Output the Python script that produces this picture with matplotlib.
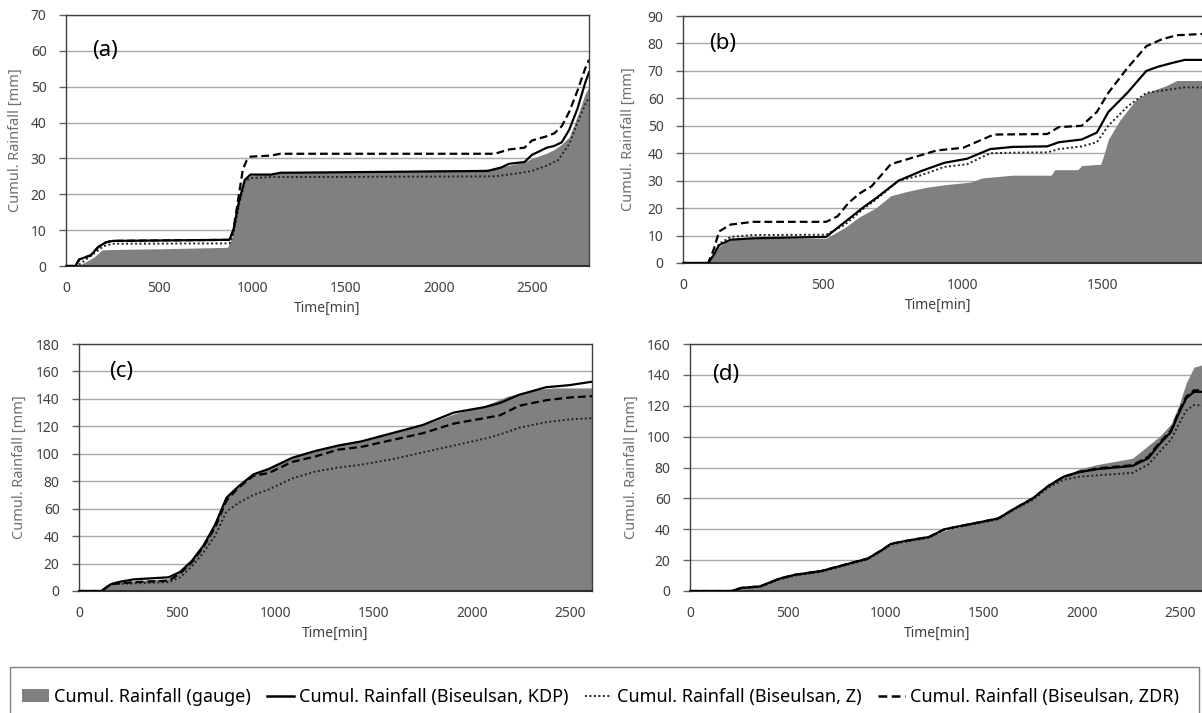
import matplotlib
matplotlib.use("Agg")
import matplotlib.pyplot as plt
from matplotlib.patches import Rectangle, Patch
from matplotlib.lines import Line2D

plt.rcParams['font.family'] = ['Noto Sans', 'DejaVu Sans']

# ---------------- data ----------------
# Panel (a)
a_t_gauge = [0, 60, 100, 150, 194, 250, 500, 867, 890, 920, 945, 960, 990, 1100, 1200, 1500, 2000, 2254, 2350, 2460, 2500, 2580, 2620, 2660, 2700, 2745, 2785, 2806]
a_gauge = [0, 0, 1, 2.5, 4.5, 4.6, 4.8, 5.2, 8, 16, 22, 24, 25.3, 25.7, 26, 26.3, 26.8, 27, 27.8, 29, 30, 31.5, 32.5, 34, 36, 42, 48, 50]
a_t_kdp = [0, 50, 71, 133, 173, 214, 250, 877, 898, 928, 959, 990, 1100, 1150, 2264, 2336, 2377, 2460, 2500, 2580, 2620, 2660, 2700, 2745, 2785, 2806]
a_kdp = [0, 0, 1.8, 3, 5.3, 6.6, 7, 7.3, 10, 18, 24, 25.5, 25.5, 26, 26.5, 27.5, 28.5, 29, 31, 33, 33.5, 34.5, 38, 44, 51, 54]
a_t_z = [0, 60, 100, 150, 200, 250, 877, 898, 928, 959, 990, 1100, 2300, 2418, 2500, 2580, 2640, 2700, 2745, 2785, 2806]
a_z = [0, 0, 1.5, 3.5, 5.5, 6.2, 6.3, 9, 17, 23.5, 24.5, 24.8, 25, 25.8, 26.5, 28, 29.5, 34, 40, 45, 47]
a_t_zdr = [0, 50, 71, 133, 173, 214, 250, 877, 898, 928, 949, 970, 990, 1100, 1150, 2300, 2377, 2460, 2500, 2580, 2620, 2660, 2700, 2745, 2785, 2806]
a_zdr = [0, 0, 1.8, 3, 5.3, 6.6, 7, 7.3, 10, 20, 27, 29.5, 30.5, 30.8, 31.3, 31.3, 32.5, 33, 35, 36.2, 37, 39, 43, 49, 55, 57.5]

# Panel (b)
b_t_gauge = [0, 88, 110, 129, 170, 250, 511, 579, 633, 688, 742, 797, 865, 933, 1029, 1069, 1178, 1315, 1328, 1410, 1424, 1492, 1505, 1519, 1560, 1614, 1655, 1723, 1764, 1868]
b_gauge = [0, 0, 3, 6, 8.5, 9, 9, 13, 17, 20, 24.5, 26, 27.5, 28.5, 29.5, 31, 32, 32, 34, 34, 35.5, 36, 40, 45, 52, 59, 62, 64.5, 66.5, 66.5]
b_t_kdp = [0, 90, 110, 129, 170, 250, 511, 579, 647, 688, 770, 851, 933, 1015, 1097, 1178, 1301, 1342, 1424, 1478, 1519, 1587, 1655, 1696, 1751, 1792, 1868]
b_kdp = [0, 0, 3, 6.5, 8.5, 9, 9.5, 15, 20.5, 23.5, 30, 33.5, 36.5, 38, 41.5, 42.3, 42.5, 44, 45, 47.5, 55, 62, 70, 71.5, 73, 74, 74]
b_t_z = [0, 90, 110, 129, 170, 250, 511, 579, 647, 688, 770, 851, 933, 1015, 1097, 1178, 1301, 1342, 1424, 1478, 1519, 1587, 1655, 1723, 1792, 1868]
b_z = [0, 0, 3, 7, 9.5, 10.2, 10.3, 14, 20, 23, 30, 32, 35, 36, 40, 40.2, 40.3, 41.5, 42.5, 44, 50, 57, 62, 63, 64, 64]
b_t_zdr = [0, 90, 110, 129, 170, 250, 511, 552, 592, 633, 674, 742, 824, 906, 1001, 1069, 1110, 1301, 1342, 1424, 1478, 1519, 1587, 1655, 1710, 1764, 1868]
b_zdr = [0, 0, 5, 11.5, 14, 15, 15, 17, 22, 25.5, 28, 36, 38.5, 41, 42, 45, 46.8, 47, 49.5, 50, 55, 62, 71, 79, 81.5, 83, 83.5]

# Panel (c)
c_t_gauge = [0, 114, 163, 200, 280, 457, 516, 575, 633, 692, 751, 810, 888, 967, 1084, 1202, 1320, 1437, 1594, 1751, 1908, 2065, 2183, 2339, 2418, 2612]
c_gauge = [0, 0, 5, 6, 7.5, 9, 14, 22, 33, 48, 68, 77, 86, 90, 98, 103, 107, 110, 116, 121, 129, 135, 142, 147, 148, 148]
c_t_kdp = [0, 114, 163, 200, 280, 457, 516, 575, 633, 692, 751, 810, 888, 967, 1084, 1202, 1320, 1437, 1594, 1751, 1908, 2065, 2143, 2241, 2378, 2496, 2612]
c_kdp = [0, 0, 5, 6.5, 8.5, 10, 14, 22, 33, 48, 68, 76, 85, 89, 97, 102, 106, 109, 115, 121, 130, 134, 137, 143, 148.5, 150, 152.5]
c_t_z = [0, 114, 163, 280, 457, 516, 575, 633, 692, 751, 810, 888, 967, 1084, 1202, 1320, 1437, 1594, 1751, 1908, 2065, 2143, 2241, 2378, 2496, 2612]
c_z = [0, 0, 5, 5.5, 6.5, 10, 18, 28, 40, 58, 64, 70, 74, 82, 87, 90, 92, 96, 101, 106, 111, 114, 119, 123, 125, 126]
c_t_zdr = [0, 114, 163, 280, 457, 516, 575, 633, 692, 751, 810, 888, 967, 1084, 1202, 1320, 1437, 1594, 1751, 1908, 2065, 2143, 2241, 2378, 2496, 2612]
c_zdr = [0, 0, 5, 6.5, 7.5, 13, 21, 32, 46, 66, 75, 84, 86, 94, 98, 103, 105, 110, 115, 122, 126, 128, 135, 139, 141, 142]

# Panel (d)
d_t_gauge = [0, 212, 261, 358, 456, 535, 672, 789, 907, 985, 1025, 1103, 1220, 1299, 1397, 1495, 1573, 1651, 1749, 1828, 1906, 1984, 2082, 2258, 2317, 2395, 2454, 2494, 2533, 2572, 2628]
d_gauge = [0, 0, 2, 3, 8, 10.5, 13, 17, 21, 27, 30, 32, 35, 39, 42, 45, 47, 53, 60, 68, 74, 79, 82, 86, 92, 100, 108, 120, 135, 145, 147]
d_t_rad = [0, 212, 261, 358, 456, 535, 672, 789, 907, 985, 1025, 1103, 1220, 1299, 1397, 1495, 1573, 1651, 1749, 1828, 1906, 1984, 2082, 2258, 2339, 2395, 2454, 2494, 2533, 2572, 2628]
d_kdp = [0, 0, 2, 3, 8, 10.5, 13, 17, 21, 27, 30.5, 32.5, 35, 40, 42.5, 45, 47, 53, 60, 68, 74, 77, 79, 81, 86, 95, 103, 115, 125, 129, 129]
d_zdr = [0, 0, 2, 3, 8, 10.5, 13, 17, 21, 27, 30.5, 32.5, 35, 40, 42.5, 45, 47, 53, 60, 68, 74, 77, 79.5, 81.5, 87, 96, 104, 116, 126, 130, 130]
d_z = [0, 0, 1.8, 2.8, 7.5, 10, 12.5, 16.5, 20.5, 26.5, 30, 32, 34.5, 39.5, 42, 44.5, 46.5, 52.5, 59, 67, 72, 74, 75, 76.5, 82, 90, 98, 108, 117, 120.5, 120]

panel_labels = ["(a)", "(b)", "(c)", "(d)"]
legend_labels = ["Cumul. Rainfall (gauge)", "Cumul. Rainfall (Biseulsan, KDP)",
                 "Cumul. Rainfall (Biseulsan, Z)", "Cumul. Rainfall (Biseulsan, ZDR)"]
x_ticks = [0, 500, 1000, 1500, 2000, 2500]

# ---------------- layout ----------------
W, H = 1202, 713
fig = plt.figure(figsize=(W / 100, H / 100), dpi=100)

def px_axes(left, top, right, bottom):
    return fig.add_axes([left / W, 1 - bottom / H, (right - left) / W, (bottom - top) / H])

panels = [
    dict(box=(66, 15, 589, 266), xmax=2806, ymax=70, ystep=10,
         gauge=(a_t_gauge, a_gauge), kdp=(a_t_kdp, a_kdp), z=(a_t_z, a_z), zdr=(a_t_zdr, a_zdr),
         lab=(0.0746, 60), box_x=(0.021, 0.130), ylabx=-0.082, xlabx=0.5),
    dict(box=(683, 16, 1206, 263), xmax=1868, ymax=90, ystep=10,
         gauge=(b_t_gauge, b_gauge), kdp=(b_t_kdp, b_kdp), z=(b_t_z, b_z), zdr=(b_t_zdr, b_zdr),
         lab=(0.0765, 80), box_x=(0.027, 0.134), ylabx=-0.090, xlabx=0.487),
    dict(box=(79, 344, 592, 591), xmax=2612, ymax=180, ystep=20,
         gauge=(c_t_gauge, c_gauge), kdp=(c_t_kdp, c_kdp), z=(c_t_z, c_z), zdr=(c_t_zdr, c_zdr),
         lab=(0.082, 160), box_x=(0.027, 0.136), ylabx=-0.101, xlabx=0.5),
    dict(box=(690, 344, 1205, 591), xmax=2628, ymax=160, ystep=20,
         gauge=(d_t_gauge, d_gauge), kdp=(d_t_rad, d_kdp), z=(d_t_rad, d_z), zdr=(d_t_rad, d_zdr),
         lab=(0.070, 140), box_x=(0.016, 0.123), ylabx=-0.099, xlabx=0.48),
]

gauge_color = '#808080'
tick_color = '#404040'

for p, plabel in zip(panels, panel_labels):
    ax = px_axes(*p['box'])
    ax.set_yticks(range(0, p['ymax'] + 1, p['ystep']))
    ax.set_xticks([t for t in x_ticks if t <= p['xmax']])
    ax.grid(axis='y', color='#A8A8A8', linewidth=1.0, zorder=0)
    ax.set_axisbelow(True)

    tg, vg = p['gauge']
    ax.fill_between(tg, vg, 0, color=gauge_color, linewidth=0, zorder=1)
    tk, vk = p['kdp']
    tz, vz = p['z']
    td, vd = p['zdr']
    ax.plot(tz, vz, color='#222222', linewidth=1.4, linestyle=(0, (1, 1.3)), zorder=3)
    ax.plot(td, vd, color='black', linewidth=1.6, linestyle=(0, (3.5, 1.8)), zorder=4)
    ax.plot(tk, vk, color='black', linewidth=1.6, linestyle='-', zorder=5)
    ax.set_xlim(0, p['xmax'])
    ax.set_ylim(0, p['ymax'])

    for s in ['top', 'right']:
        ax.spines[s].set_color('#404040')
        ax.spines[s].set_linewidth(1.0)
    ax.spines['left'].set_color('#404040')
    ax.spines['left'].set_linewidth(1.0)
    ax.spines['bottom'].set_color('#303030')
    ax.spines['bottom'].set_linewidth(1.5)

    ax.tick_params(axis='x', length=0, pad=11, labelsize=10, labelcolor=tick_color)
    ax.tick_params(axis='y', length=5, width=1, color='#606060', pad=9,
                   labelsize=10, labelcolor=tick_color)

    ax.set_xlabel('Time[min]', fontsize=10, color=tick_color)
    ax.xaxis.set_label_coords(p['xlabx'], -0.14)
    ax.set_ylabel('Cumul. Rainfall [mm]', fontsize=10.5, color='#707070')
    ax.yaxis.set_label_coords(p['ylabx'], 0.5)

    # white gap box behind the panel label
    lx, ly = p['lab']
    yfrac = ly / p['ymax']
    ax.add_patch(Rectangle((p['box_x'][0], yfrac - 0.03), p['box_x'][1] - p['box_x'][0], 0.06,
                           transform=ax.transAxes, facecolor='white', edgecolor='none', zorder=0.5))
    ax.text(lx, yfrac, plabel, transform=ax.transAxes, ha='center', va='center',
            fontsize=16, color='black', zorder=6)

# ---------------- legend ----------------
fig.patches.append(Rectangle((10 / W, -0.1), 1189 / W, (713 - 667) / H + 0.1,
                             transform=fig.transFigure, facecolor='white',
                             edgecolor='#808080', linewidth=1.0, zorder=0))
handles = [
    Patch(facecolor=gauge_color, edgecolor='none'),
    Line2D([], [], color='black', linewidth=1.8, linestyle='-'),
    Line2D([], [], color='#222222', linewidth=1.4, linestyle=(0, (1, 1.3))),
    Line2D([], [], color='black', linewidth=1.8, linestyle=(0, (3.5, 1.8))),
]
fig.legend(handles, legend_labels, loc='center left', bbox_to_anchor=(22 / W, 1 - 697 / H),
           ncol=4, frameon=False, fontsize=13, handlelength=1.5, handleheight=0.7,
           handletextpad=0.28, columnspacing=0.9, borderpad=0, borderaxespad=0)

fig.savefig('out.png', dpi=100)
